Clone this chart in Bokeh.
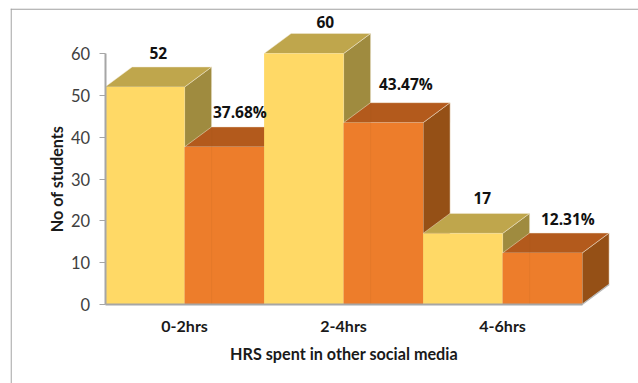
from bokeh.embed import file_html
from bokeh.models import ColumnDataSource, FixedTicker, Range1d, Span
from bokeh.plotting import figure
from bokeh.resources import INLINE
from bokeh.core.properties import value

categories = ["0-2hrs", "2-4hrs", "4-6hrs"]
students = [52, 60, 17]
percent = [37.68, 43.47, 12.31]

WIDTH, HEIGHT = 638, 383
PX_PER_GROUP = 159.0
PX_PER_UNIT = 4.183

# The frame fills the bordered chart area; the axes are pinned inside it
FRAME_LEFT, FRAME_TOP = 10, 8
AXIS_PX, BASE_PX = 104.6, 304.0

# Extrusion of the 3D columns, in data units
DEPTH_X = 27 / PX_PER_GROUP
DEPTH_Y = 20 / PX_PER_UNIT

x_start = -0.5 - (AXIS_PX - FRAME_LEFT) / PX_PER_GROUP
x_end = -0.5 + (WIDTH - AXIS_PX) / PX_PER_GROUP
y_start = -(HEIGHT - BASE_PX) / PX_PER_UNIT
y_end = (BASE_PX - FRAME_TOP) / PX_PER_UNIT

p = figure(
    width=WIDTH, height=HEIGHT, output_backend="svg", toolbar_location=None,
    x_range=Range1d(x_start, x_end), y_range=Range1d(y_start, y_end),
    min_border_left=FRAME_LEFT, min_border_right=0, min_border_top=FRAME_TOP, min_border_bottom=0,
    outline_line_color=None, background_fill_color="white", border_fill_color="white",
)
p.grid.visible = False

# Thin border on the chart area
border = dict(line_color="#A0A0A0", line_width=1.2, level="underlay")
p.add_layout(Span(location=x_start + 0.6 / PX_PER_GROUP, dimension="height", **border))
p.add_layout(Span(location=y_end - 0.6 / PX_PER_UNIT, dimension="width", **border))

YELLOW = dict(front="#FFD966", top="#BFA64C", side="#9F8B3F")
ORANGE = dict(front="#ED7D2B", top="#B35A1C", side="#955016")


def column(x0, x1, v, style):
    """Draw one extruded column: side face, top face, then front face."""
    edge = dict(line_color="#F3EBD8", line_width=0.7, line_alpha=0.7)
    p.patch([x1, x1 + DEPTH_X, x1 + DEPTH_X, x1], [0, DEPTH_Y, v + DEPTH_Y, v],
            fill_color=style["side"], **edge)
    p.patch([x0, x0 + DEPTH_X, x1 + DEPTH_X, x1], [v, v + DEPTH_Y, v + DEPTH_Y, v],
            fill_color=style["top"], **edge)
    p.patch([x0, x1, x1, x0], [0, 0, v, v], fill_color=style["front"], line_color=None)


for i in range(len(categories)):
    column(i - 0.5, i, students[i], YELLOW)
    column(i, i + 0.5, percent[i], ORANGE)
    # Faint seam where the neighbouring column's back edge shows through
    p.line([i + DEPTH_X, i + DEPTH_X], [0, percent[i] + DEPTH_Y],
           line_color="#9A5A20", line_alpha=0.1, line_width=1)

# Receding edge of the floor under the last column
p.line([2.5, 2.5 + DEPTH_X], [0, DEPTH_Y], line_color="#B8B8B8", line_width=1.5)

# Value labels above the columns
label_dx = [0, 2, 8, 9, 6, 12]
label_dy = [-33.5, -35, -32, -39, -35, -34.5]
label_x, label_y, label_text = [], [], []
for i in range(len(categories)):
    label_x += [i - 0.5 + 0.25 + DEPTH_X / 2, i + 0.25 + DEPTH_X / 2]
    label_y += [students[i], percent[i]]
    label_text += [str(students[i]), f"{percent[i]}%"]
src = ColumnDataSource(dict(x=label_x, y=label_y, t=label_text, dx=label_dx, dy=label_dy))
p.text("x", "y", text="t", source=src, x_offset="dx", y_offset="dy",
       text_font=value("Open Sans"), text_font_style="bold", text_font_size="15.5px",
       text_color="#111111", text_align="center", text_baseline="middle")

# Axes, pinned to the column baseline and the left edge of the first column
p.xaxis.fixed_location = 0
p.yaxis.fixed_location = -0.5
p.xaxis.ticker = FixedTicker(ticks=list(range(len(categories))))
p.xaxis.major_label_overrides = {i: c for i, c in enumerate(categories)}
p.xaxis.major_label_text_font = "Lato"
p.xaxis.major_label_text_font_style = "bold"
p.xaxis.major_label_text_font_size = "16px"
p.xaxis.major_label_text_color = "#1a1a1a"
p.xaxis.major_label_standoff = 5
p.xaxis.major_tick_line_color = None
p.xaxis.minor_tick_line_color = None
p.xaxis.axis_line_color = "#A6A6A6"
p.xaxis.axis_line_width = 2
p.xaxis.bounds = (-0.5, 2.5)
p.xaxis.axis_label = "HRS spent in other social media"
p.xaxis.axis_label_standoff = 6
p.xaxis.axis_label_text_font = "Lato"
p.xaxis.axis_label_text_font_style = "bold"
p.xaxis.axis_label_text_font_size = "16.2px"
p.xaxis.axis_label_text_color = "#1a1a1a"

p.yaxis.ticker = FixedTicker(ticks=list(range(0, 61, 10)))
p.yaxis.bounds = (0, 60)
p.yaxis.major_label_text_font = "Lato"
p.yaxis.major_label_text_font_size = "16.5px"
p.yaxis.major_label_text_color = "#404040"
p.yaxis.major_label_standoff = 9
p.yaxis.major_tick_in = 0
p.yaxis.major_tick_out = 6
p.yaxis.major_tick_line_color = "#A6A6A6"
p.yaxis.minor_tick_line_color = None
p.yaxis.axis_line_color = "#A6A6A6"
p.yaxis.axis_line_width = 2
p.yaxis.axis_label = "No of students"
p.yaxis.axis_label_standoff = 2
p.yaxis.axis_label_text_font = "Lato"
p.yaxis.axis_label_text_font_style = "bold"
p.yaxis.axis_label_text_font_size = "16.2px"
p.yaxis.axis_label_text_color = "#1a1a1a"

open("out.html", "w").write(file_html(p, INLINE))
